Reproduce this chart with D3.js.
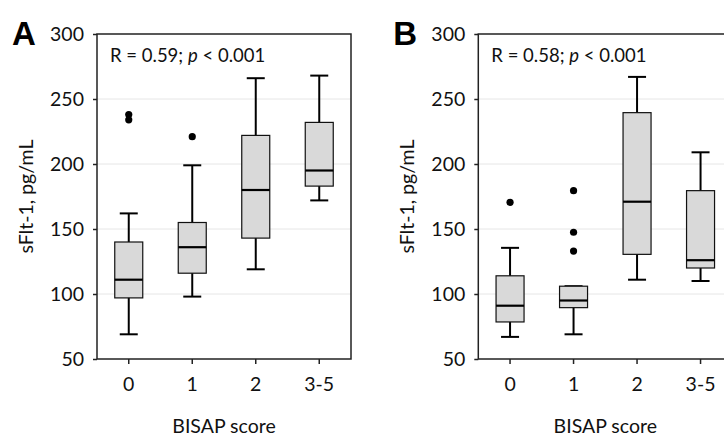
<!DOCTYPE html>
<html>
<head>
<meta charset="utf-8">
<script src="https://cdn.jsdelivr.net/npm/d3@7"></script>
<style>
  body { margin: 0; background: #fff; }
  svg { display: block; font-family: Lato, "Open Sans", sans-serif; }
</style>
</head>
<body>
<script>
// categories and tick values
var categories = ['0', '1', '2', '3-5'];
var yTicks = [50, 100, 150, 200, 250, 300];

// panel A boxes
var aLow    = [69, 98, 119, 172];
var aQ1     = [97, 116, 143, 183];
var aMedian = [111, 136, 180, 195];
var aQ3     = [140, 155, 222, 232];
var aHigh   = [162, 199, 266, 268];
var aOutliers = [[238, 234], [221], [], []];

// panel B boxes
var bLow    = [67, 69, 111, 110];
var bQ1     = [78.5, 89.5, 130.5, 120];
var bMedian = [91, 95, 171, 126];
var bQ3     = [114, 106, 239.5, 179.5];
var bHigh   = [135.5, 106, 267, 209];
var bOutliers = [[170.5], [179.5, 147.5, 133], [], []];

var width = 724, height = 438;
var svg = d3.select('body').append('svg')
  .attr('width', width).attr('height', height);

var plot = { top: 34, height: 325, width: 254 };
var fs = 19.5;

var drawPanel = function(left, letter, stat, low, q1, med, q3, high, outliers) {
  var g = svg.append('g').attr('transform', 'translate(' + left + ',' + plot.top + ')');

  var x = d3.scaleBand().domain(categories).range([0, plot.width]);
  var y = d3.scaleLinear().domain([50, 300]).range([plot.height, 0]);

  // gridlines
  g.selectAll('.grid')
    .data(yTicks.filter(function(d) { return d > 50 && d < 300; }))
    .enter().append('line')
    .attr('x1', 0).attr('x2', plot.width)
    .attr('y1', function(d) { return y(d); })
    .attr('y2', function(d) { return y(d); })
    .attr('stroke', '#e6e6e6').attr('stroke-width', 1);

  // frame
  g.append('rect')
    .attr('width', plot.width).attr('height', plot.height)
    .attr('fill', 'none').attr('stroke', '#222').attr('stroke-width', 1.5);

  // axes
  var yAxis = g.append('g').call(d3.axisLeft(y).tickValues(yTicks).tickSize(4).tickPadding(9));
  var xAxis = g.append('g').attr('transform', 'translate(0,' + plot.height + ')')
    .call(d3.axisBottom(x).tickSize(5).tickPadding(13));
  [yAxis, xAxis].forEach(function(ax) {
    ax.select('.domain').remove();
    ax.selectAll('line').attr('stroke', '#222').attr('stroke-width', 1.5);
    ax.selectAll('text').attr('font-size', fs).attr('fill', '#111')
      .attr('font-family', 'Lato, "Open Sans", sans-serif');
  });

  var boxW = 28, capW = 18;
  var idx = d3.range(categories.length);
  var cx = function(i) { return x(categories[i]) + x.bandwidth() / 2; };

  // whiskers
  var wg = g.append('g').attr('stroke', '#000').attr('stroke-width', 2);
  wg.selectAll('.w').data(idx).enter().append('line')
    .attr('x1', cx).attr('x2', cx)
    .attr('y1', function(i) { return y(low[i]); })
    .attr('y2', function(i) { return y(high[i]); });
  wg.selectAll('.cl').data(idx).enter().append('line')
    .attr('x1', function(i) { return cx(i) - capW / 2; })
    .attr('x2', function(i) { return cx(i) + capW / 2; })
    .attr('y1', function(i) { return y(low[i]); })
    .attr('y2', function(i) { return y(low[i]); });
  wg.selectAll('.ch').data(idx).enter().append('line')
    .attr('x1', function(i) { return cx(i) - capW / 2; })
    .attr('x2', function(i) { return cx(i) + capW / 2; })
    .attr('y1', function(i) { return y(high[i]); })
    .attr('y2', function(i) { return y(high[i]); });

  // boxes
  g.selectAll('.box').data(idx).enter().append('rect')
    .attr('x', function(i) { return cx(i) - boxW / 2; })
    .attr('y', function(i) { return y(q3[i]); })
    .attr('width', boxW)
    .attr('height', function(i) { return y(q1[i]) - y(q3[i]); })
    .attr('fill', '#d9d9d9').attr('stroke', '#111').attr('stroke-width', 1.2);

  // medians
  g.selectAll('.med').data(idx).enter().append('line')
    .attr('x1', function(i) { return cx(i) - boxW / 2; })
    .attr('x2', function(i) { return cx(i) + boxW / 2; })
    .attr('y1', function(i) { return y(med[i]); })
    .attr('y2', function(i) { return y(med[i]); })
    .attr('stroke', '#000').attr('stroke-width', 2.2);

  // outliers
  var pts = [];
  outliers.forEach(function(arr, i) { arr.forEach(function(v) { pts.push([i, v]); }); });
  g.selectAll('.out').data(pts).enter().append('circle')
    .attr('cx', function(d) { return cx(d[0]); })
    .attr('cy', function(d) { return y(d[1]); })
    .attr('r', 3.6).attr('fill', '#000');

  // stat label
  var t = g.append('text').attr('x', 13).attr('y', 28)
    .attr('font-size', 18.5).attr('fill', '#111');
  t.append('tspan').text(stat + '; ');
  t.append('tspan').attr('font-style', 'italic').text('p');
  t.append('tspan').text(' < 0.001');

  // axis titles
  g.append('text')
    .attr('transform', 'translate(' + (-64) + ',' + plot.height / 2 + ') rotate(-90)')
    .attr('text-anchor', 'middle').attr('font-size', fs).attr('fill', '#111')
    .text('sFlt-1, pg/mL');
  g.append('text')
    .attr('x', plot.width / 2).attr('y', plot.height + 74)
    .attr('text-anchor', 'middle').attr('font-size', fs).attr('fill', '#111')
    .text('BISAP score');

  // panel letter
  g.append('text')
    .attr('x', -85).attr('y', 11)
    .attr('font-family', '"Liberation Sans", Arial, sans-serif')
    .attr('font-weight', 'bold').attr('font-size', 33).attr('fill', '#000')
    .text(letter);
};

drawPanel(97, 'A', 'R = 0.59', aLow, aQ1, aMedian, aQ3, aHigh, aOutliers);
drawPanel(478.3, 'B', 'R = 0.58', bLow, bQ1, bMedian, bQ3, bHigh, bOutliers);
</script>
</body>
</html>
